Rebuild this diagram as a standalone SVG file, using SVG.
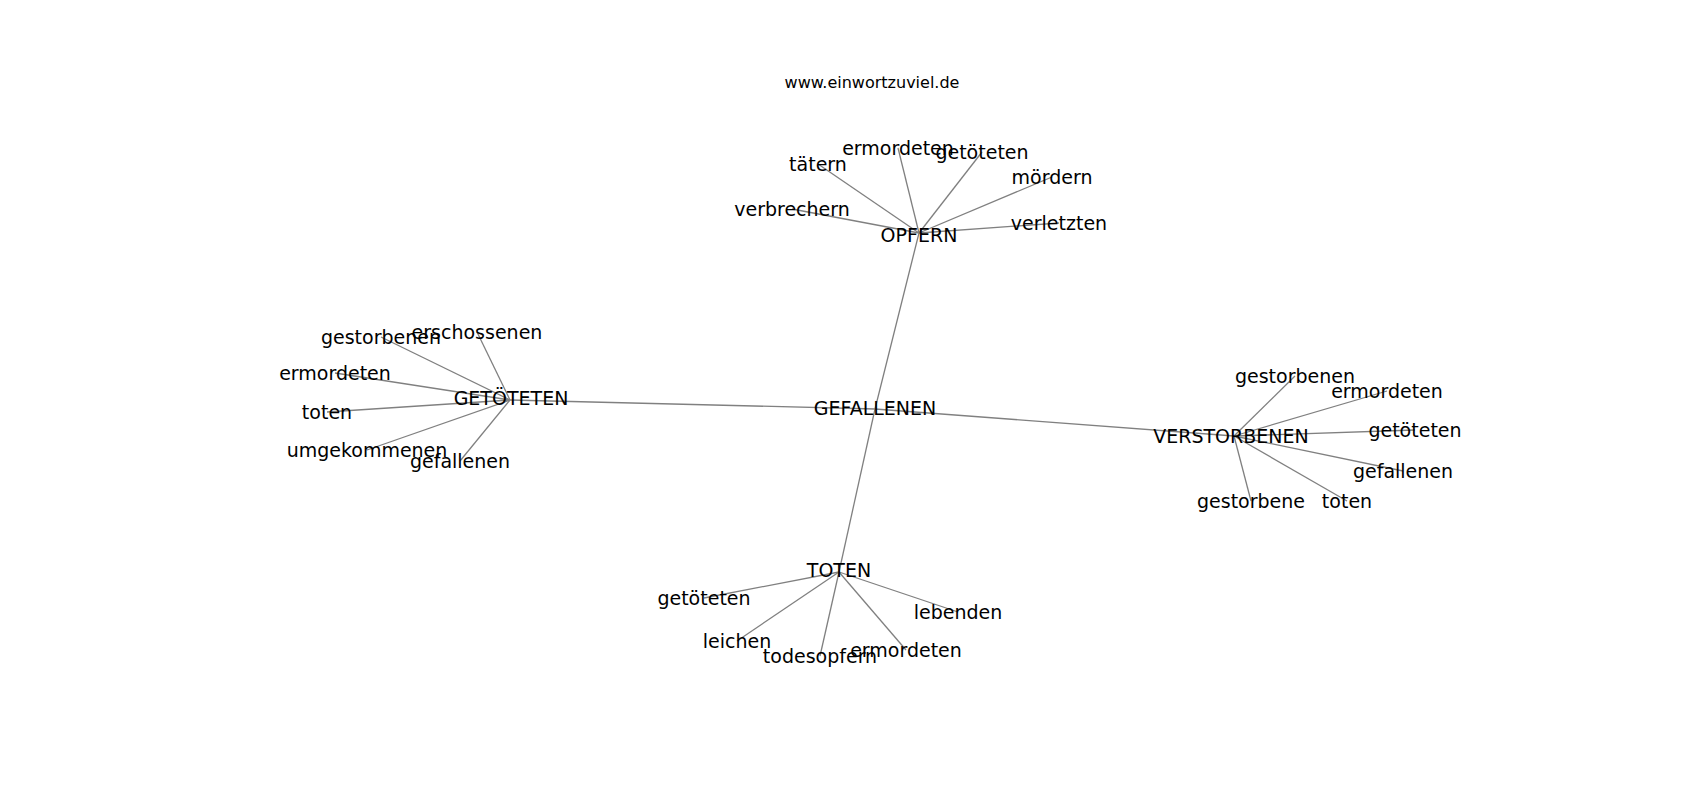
<svg xmlns="http://www.w3.org/2000/svg" width="1700" height="800" viewBox="0 0 1700 800">
<style>
.e{stroke:#808080;stroke-width:1.3;fill:none}
.t{font-family:"DejaVu Sans",sans-serif;font-size:19px;fill:#000;text-anchor:middle}
.h{font-family:"DejaVu Sans",sans-serif;font-size:16px;fill:#000;text-anchor:middle}
</style>
<rect width="1700" height="800" fill="#fff"/>
<text class="h" x="872" y="88">www.einwortzuviel.de</text>
<g id="edges">
<line class="e" x1="875" y1="409" x2="919" y2="233"/>
<line class="e" x1="875" y1="409" x2="510" y2="400"/>
<line class="e" x1="875" y1="409" x2="1234" y2="436"/>
<line class="e" x1="875" y1="409" x2="839" y2="572"/>
<line class="e" x1="919" y1="233" x2="898" y2="148"/>
<line class="e" x1="919" y1="233" x2="982" y2="152"/>
<line class="e" x1="919" y1="233" x2="818" y2="164"/>
<line class="e" x1="919" y1="233" x2="1052" y2="177"/>
<line class="e" x1="919" y1="233" x2="792" y2="209"/>
<line class="e" x1="919" y1="233" x2="1059" y2="223"/>
<line class="e" x1="510" y1="400" x2="381" y2="337"/>
<line class="e" x1="510" y1="400" x2="477" y2="332"/>
<line class="e" x1="510" y1="400" x2="335" y2="373"/>
<line class="e" x1="510" y1="400" x2="327" y2="412"/>
<line class="e" x1="510" y1="400" x2="367" y2="450"/>
<line class="e" x1="510" y1="400" x2="460" y2="461"/>
<line class="e" x1="1234" y1="436" x2="1295" y2="376"/>
<line class="e" x1="1234" y1="436" x2="1387" y2="391"/>
<line class="e" x1="1234" y1="436" x2="1415" y2="430"/>
<line class="e" x1="1234" y1="436" x2="1403" y2="471"/>
<line class="e" x1="1234" y1="436" x2="1251" y2="501"/>
<line class="e" x1="1234" y1="436" x2="1347" y2="501"/>
<line class="e" x1="839" y1="572" x2="704" y2="598"/>
<line class="e" x1="839" y1="572" x2="958" y2="612"/>
<line class="e" x1="839" y1="572" x2="737" y2="641"/>
<line class="e" x1="839" y1="572" x2="820" y2="656"/>
<line class="e" x1="839" y1="572" x2="906" y2="650"/>
</g>
<g id="n-gefallenen"><text class="t" x="875" y="415">GEFALLENEN</text></g>
<g id="n-opfern"><text class="t" x="919" y="242">OPFERN</text></g>
<g id="n-getoeteten"><text class="t" x="511" y="405">GETÖTETEN</text></g>
<g id="n-verstorbenen"><text class="t" x="1231" y="443">VERSTORBENEN</text></g>
<g id="n-toten"><text class="t" x="839" y="577">TOTEN</text></g>
<g id="o-ermordeten"><text class="t" x="898" y="155">ermordeten</text></g>
<g id="o-getoeteten"><text class="t" x="982" y="159">getöteten</text></g>
<g id="o-taetern"><text class="t" x="818" y="171">tätern</text></g>
<g id="o-moerdern"><text class="t" x="1052" y="184">mördern</text></g>
<g id="o-verbrechern"><text class="t" x="792" y="216">verbrechern</text></g>
<g id="o-verletzten"><text class="t" x="1059" y="230">verletzten</text></g>
<g id="g-gestorbenen"><text class="t" x="381" y="344">gestorbenen</text></g>
<g id="g-erschossenen"><text class="t" x="477" y="339">erschossenen</text></g>
<g id="g-ermordeten"><text class="t" x="335" y="380">ermordeten</text></g>
<g id="g-toten"><text class="t" x="327" y="419">toten</text></g>
<g id="g-umgekommenen"><text class="t" x="367" y="457">umgekommenen</text></g>
<g id="g-gefallenen"><text class="t" x="460" y="468">gefallenen</text></g>
<g id="v-gestorbenen"><text class="t" x="1295" y="383">gestorbenen</text></g>
<g id="v-ermordeten"><text class="t" x="1387" y="398">ermordeten</text></g>
<g id="v-getoeteten"><text class="t" x="1415" y="437">getöteten</text></g>
<g id="v-gefallenen"><text class="t" x="1403" y="478">gefallenen</text></g>
<g id="v-gestorbene"><text class="t" x="1251" y="508">gestorbene</text></g>
<g id="v-toten"><text class="t" x="1347" y="508">toten</text></g>
<g id="t-getoeteten"><text class="t" x="704" y="605">getöteten</text></g>
<g id="t-lebenden"><text class="t" x="958" y="619">lebenden</text></g>
<g id="t-leichen"><text class="t" x="737" y="648">leichen</text></g>
<g id="t-todesopfern"><text class="t" x="820" y="663">todesopfern</text></g>
<g id="t-ermordeten"><text class="t" x="906" y="657">ermordeten</text></g>
</svg>
